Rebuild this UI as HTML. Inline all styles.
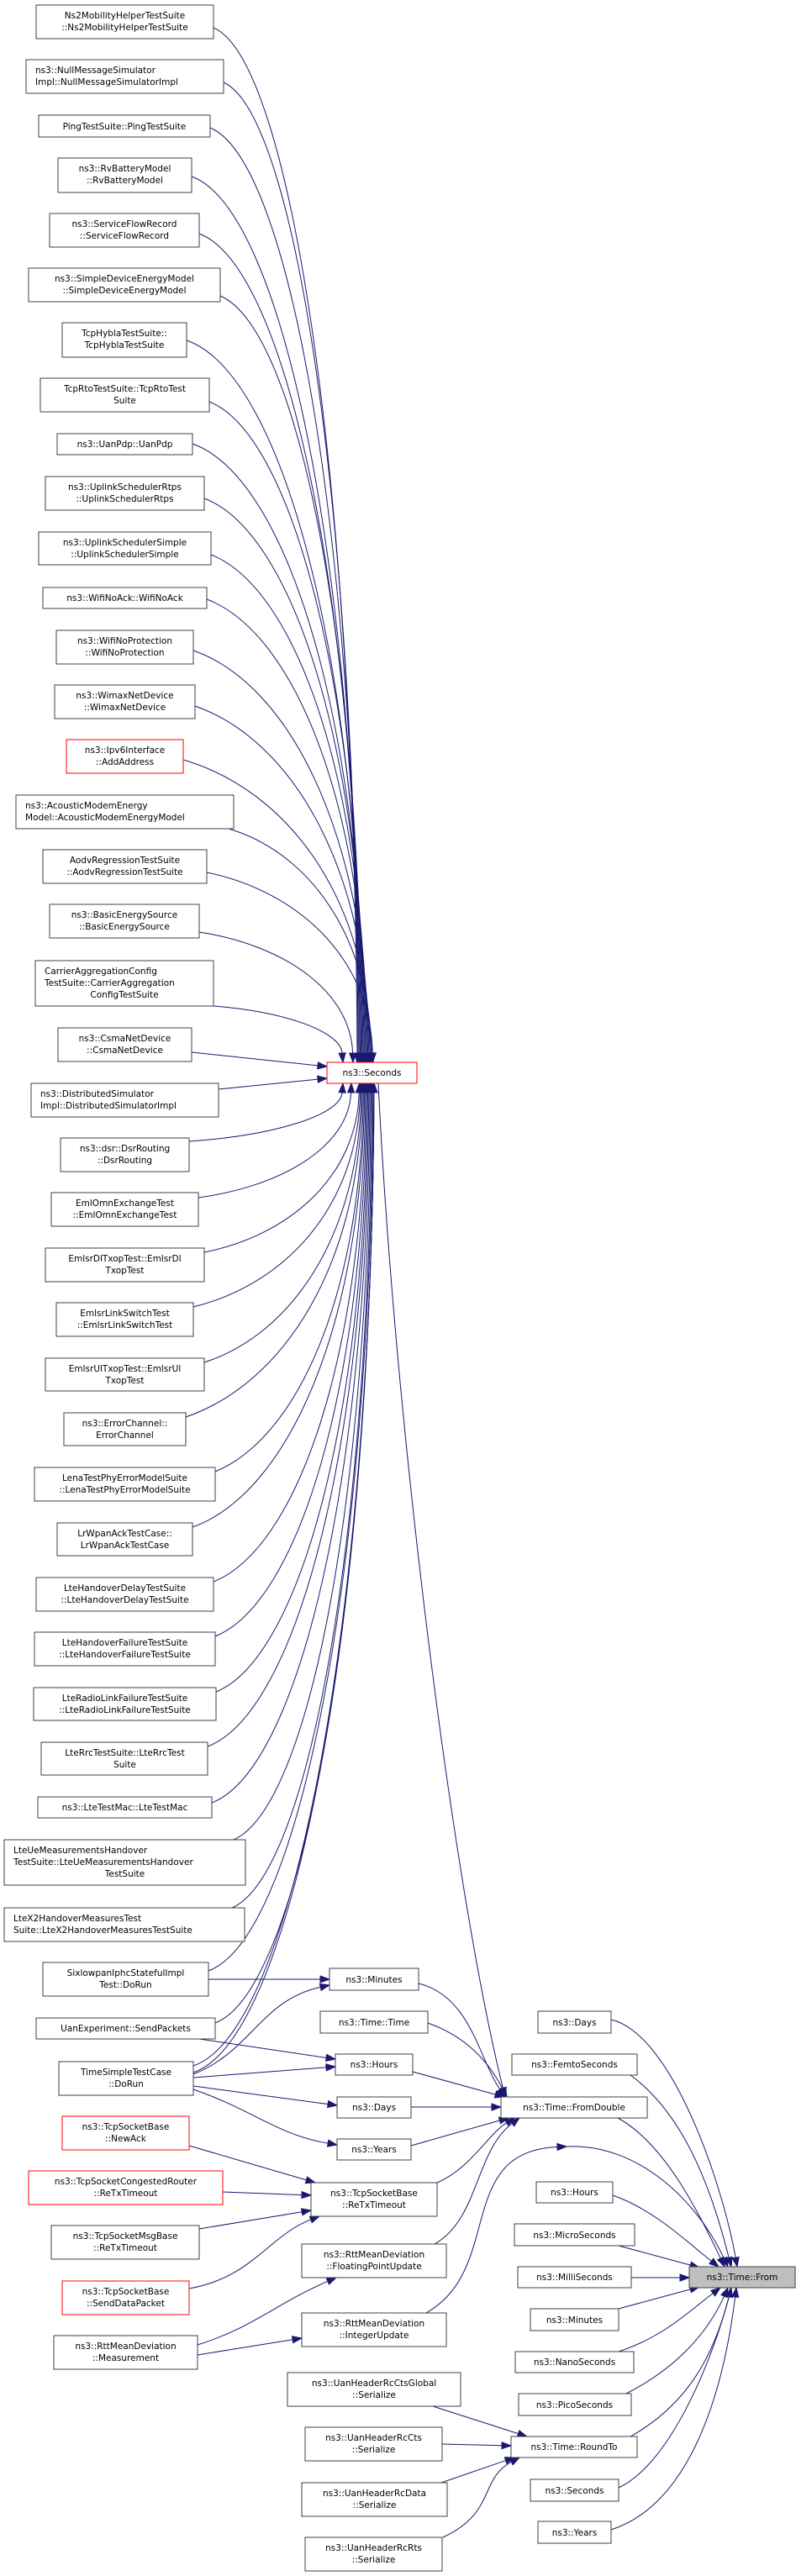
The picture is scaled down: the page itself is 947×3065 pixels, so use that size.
<!DOCTYPE html>
<html><head><meta charset="utf-8"><style>
html,body{margin:0;padding:0;background:#fff;}
svg{display:block;}
text{font-family:"DejaVu Sans","Liberation Sans",sans-serif;font-size:10.5px;fill:#000;}
</style></head><body>
<svg id="g" width="947" height="3065" viewBox="0 0 947 3065" xmlns="http://www.w3.org/2000/svg">
<g id="edges" fill="none" stroke="#191970" stroke-width="1"></g>
<g id="heads" fill="#191970" stroke="#191970"></g>
<g id="nodes">
<rect x="43" y="6" width="211" height="40" fill="#fff" stroke="#404040"/><text x="148.5" y="22" text-anchor="middle">Ns2MobilityHelperTestSuite</text><text x="148.5" y="36" text-anchor="middle">::Ns2MobilityHelperTestSuite</text>
<rect x="31" y="71" width="235" height="40" fill="#fff" stroke="#404040"/><text x="42" y="87">ns3::NullMessageSimulator</text><text x="42" y="101">Impl::NullMessageSimulatorImpl</text>
<rect x="46" y="137" width="204" height="26" fill="#fff" stroke="#404040"/><text x="148" y="154" text-anchor="middle">PingTestSuite::PingTestSuite</text>
<rect x="69" y="188" width="159" height="41" fill="#fff" stroke="#404040"/><text x="148.5" y="204" text-anchor="middle">ns3::RvBatteryModel</text><text x="148.5" y="218" text-anchor="middle">::RvBatteryModel</text>
<rect x="59" y="254" width="178" height="40" fill="#fff" stroke="#404040"/><text x="148" y="270" text-anchor="middle">ns3::ServiceFlowRecord</text><text x="148" y="284" text-anchor="middle">::ServiceFlowRecord</text>
<rect x="34" y="319" width="228" height="40" fill="#fff" stroke="#404040"/><text x="148" y="335" text-anchor="middle">ns3::SimpleDeviceEnergyModel</text><text x="148" y="349" text-anchor="middle">::SimpleDeviceEnergyModel</text>
<rect x="74" y="384" width="148" height="41" fill="#fff" stroke="#404040"/><text x="148" y="400" text-anchor="middle">TcpHyblaTestSuite::</text><text x="148" y="414" text-anchor="middle">TcpHyblaTestSuite</text>
<rect x="48" y="450" width="201" height="40" fill="#fff" stroke="#404040"/><text x="148.5" y="466" text-anchor="middle">TcpRtoTestSuite::TcpRtoTest</text><text x="148.5" y="480" text-anchor="middle">Suite</text>
<rect x="68" y="516" width="161" height="25" fill="#fff" stroke="#404040"/><text x="148.5" y="532" text-anchor="middle">ns3::UanPdp::UanPdp</text>
<rect x="54" y="567" width="189" height="40" fill="#fff" stroke="#404040"/><text x="148.5" y="583" text-anchor="middle">ns3::UplinkSchedulerRtps</text><text x="148.5" y="597" text-anchor="middle">::UplinkSchedulerRtps</text>
<rect x="46" y="633" width="205" height="39" fill="#fff" stroke="#404040"/><text x="148.5" y="649" text-anchor="middle">ns3::UplinkSchedulerSimple</text><text x="148.5" y="663" text-anchor="middle">::UplinkSchedulerSimple</text>
<rect x="51" y="699" width="195" height="25" fill="#fff" stroke="#404040"/><text x="148.5" y="715" text-anchor="middle">ns3::WifiNoAck::WifiNoAck</text>
<rect x="67" y="750" width="163" height="40" fill="#fff" stroke="#404040"/><text x="148.5" y="766" text-anchor="middle">ns3::WifiNoProtection</text><text x="148.5" y="780" text-anchor="middle">::WifiNoProtection</text>
<rect x="65" y="815" width="167" height="40" fill="#fff" stroke="#404040"/><text x="148.5" y="831" text-anchor="middle">ns3::WimaxNetDevice</text><text x="148.5" y="845" text-anchor="middle">::WimaxNetDevice</text>
<rect x="79" y="880" width="139" height="40" fill="#fff" stroke="#ff0000"/><text x="148.5" y="896" text-anchor="middle">ns3::Ipv6Interface</text><text x="148.5" y="910" text-anchor="middle">::AddAddress</text>
<rect x="19" y="946" width="259" height="40" fill="#fff" stroke="#404040"/><text x="30" y="962">ns3::AcousticModemEnergy</text><text x="30" y="976">Model::AcousticModemEnergyModel</text>
<rect x="51" y="1011" width="195" height="40" fill="#fff" stroke="#404040"/><text x="148.5" y="1027" text-anchor="middle">AodvRegressionTestSuite</text><text x="148.5" y="1041" text-anchor="middle">::AodvRegressionTestSuite</text>
<rect x="59" y="1076" width="178" height="40" fill="#fff" stroke="#404040"/><text x="148" y="1092" text-anchor="middle">ns3::BasicEnergySource</text><text x="148" y="1106" text-anchor="middle">::BasicEnergySource</text>
<rect x="42" y="1143" width="212" height="54" fill="#fff" stroke="#404040"/><text x="53" y="1159">CarrierAggregationConfig</text><text x="53" y="1173">TestSuite::CarrierAggregation</text><text x="148" y="1187" text-anchor="middle">ConfigTestSuite</text>
<rect x="69" y="1223" width="159" height="40" fill="#fff" stroke="#404040"/><text x="148.5" y="1239" text-anchor="middle">ns3::CsmaNetDevice</text><text x="148.5" y="1253" text-anchor="middle">::CsmaNetDevice</text>
<rect x="37" y="1289" width="223" height="40" fill="#fff" stroke="#404040"/><text x="48" y="1305">ns3::DistributedSimulator</text><text x="48" y="1319">Impl::DistributedSimulatorImpl</text>
<rect x="72" y="1354" width="153" height="40" fill="#fff" stroke="#404040"/><text x="148.5" y="1370" text-anchor="middle">ns3::dsr::DsrRouting</text><text x="148.5" y="1384" text-anchor="middle">::DsrRouting</text>
<rect x="61" y="1419" width="175" height="40" fill="#fff" stroke="#404040"/><text x="148.5" y="1435" text-anchor="middle">EmlOmnExchangeTest</text><text x="148.5" y="1449" text-anchor="middle">::EmlOmnExchangeTest</text>
<rect x="54" y="1485" width="189" height="40" fill="#fff" stroke="#404040"/><text x="148.5" y="1501" text-anchor="middle">EmlsrDlTxopTest::EmlsrDl</text><text x="148.5" y="1515" text-anchor="middle">TxopTest</text>
<rect x="67" y="1550" width="163" height="40" fill="#fff" stroke="#404040"/><text x="148.5" y="1566" text-anchor="middle">EmlsrLinkSwitchTest</text><text x="148.5" y="1580" text-anchor="middle">::EmlsrLinkSwitchTest</text>
<rect x="54" y="1616" width="189" height="39" fill="#fff" stroke="#404040"/><text x="148.5" y="1632" text-anchor="middle">EmlsrUlTxopTest::EmlsrUl</text><text x="148.5" y="1646" text-anchor="middle">TxopTest</text>
<rect x="76" y="1681" width="145" height="39" fill="#fff" stroke="#404040"/><text x="148.5" y="1697" text-anchor="middle">ns3::ErrorChannel::</text><text x="148.5" y="1711" text-anchor="middle">ErrorChannel</text>
<rect x="41" y="1746" width="215" height="40" fill="#fff" stroke="#404040"/><text x="148.5" y="1762" text-anchor="middle">LenaTestPhyErrorModelSuite</text><text x="148.5" y="1776" text-anchor="middle">::LenaTestPhyErrorModelSuite</text>
<rect x="68" y="1812" width="161" height="39" fill="#fff" stroke="#404040"/><text x="148.5" y="1828" text-anchor="middle">LrWpanAckTestCase::</text><text x="148.5" y="1842" text-anchor="middle">LrWpanAckTestCase</text>
<rect x="43" y="1877" width="211" height="40" fill="#fff" stroke="#404040"/><text x="148.5" y="1893" text-anchor="middle">LteHandoverDelayTestSuite</text><text x="148.5" y="1907" text-anchor="middle">::LteHandoverDelayTestSuite</text>
<rect x="41" y="1942" width="215" height="40" fill="#fff" stroke="#404040"/><text x="148.5" y="1958" text-anchor="middle">LteHandoverFailureTestSuite</text><text x="148.5" y="1972" text-anchor="middle">::LteHandoverFailureTestSuite</text>
<rect x="40" y="2008" width="217" height="39" fill="#fff" stroke="#404040"/><text x="148.5" y="2024" text-anchor="middle">LteRadioLinkFailureTestSuite</text><text x="148.5" y="2038" text-anchor="middle">::LteRadioLinkFailureTestSuite</text>
<rect x="49" y="2073" width="198" height="39" fill="#fff" stroke="#404040"/><text x="148.5" y="2089" text-anchor="middle">LteRrcTestSuite::LteRrcTest</text><text x="148.5" y="2103" text-anchor="middle">Suite</text>
<rect x="45" y="2138" width="207" height="25" fill="#fff" stroke="#404040"/><text x="148.5" y="2154" text-anchor="middle">ns3::LteTestMac::LteTestMac</text>
<rect x="5" y="2189" width="287" height="54" fill="#fff" stroke="#404040"/><text x="16" y="2205">LteUeMeasurementsHandover</text><text x="16" y="2219">TestSuite::LteUeMeasurementsHandover</text><text x="148.5" y="2233" text-anchor="middle">TestSuite</text>
<rect x="5" y="2270" width="286" height="40" fill="#fff" stroke="#404040"/><text x="16" y="2286">LteX2HandoverMeasuresTest</text><text x="16" y="2300">Suite::LteX2HandoverMeasuresTestSuite</text>
<rect x="51" y="2335" width="197" height="40" fill="#fff" stroke="#404040"/><text x="149.5" y="2351" text-anchor="middle">SixlowpanIphcStatefulImpl</text><text x="149.5" y="2365" text-anchor="middle">Test::DoRun</text>
<rect x="43" y="2401" width="213" height="25" fill="#fff" stroke="#404040"/><text x="149.5" y="2417" text-anchor="middle">UanExperiment::SendPackets</text>
<rect x="70" y="2453" width="160" height="40" fill="#fff" stroke="#404040"/><text x="150" y="2469" text-anchor="middle">TimeSimpleTestCase</text><text x="150" y="2483" text-anchor="middle">::DoRun</text>
<rect x="74" y="2518" width="151" height="40" fill="#fff" stroke="#ff0000"/><text x="149.5" y="2534" text-anchor="middle">ns3::TcpSocketBase</text><text x="149.5" y="2548" text-anchor="middle">::NewAck</text>
<rect x="34" y="2583" width="231" height="40" fill="#fff" stroke="#ff0000"/><text x="149.5" y="2599" text-anchor="middle">ns3::TcpSocketCongestedRouter</text><text x="149.5" y="2613" text-anchor="middle">::ReTxTimeout</text>
<rect x="61" y="2648" width="176" height="40" fill="#fff" stroke="#404040"/><text x="149" y="2664" text-anchor="middle">ns3::TcpSocketMsgBase</text><text x="149" y="2678" text-anchor="middle">::ReTxTimeout</text>
<rect x="74" y="2714" width="151" height="40" fill="#fff" stroke="#ff0000"/><text x="149.5" y="2730" text-anchor="middle">ns3::TcpSocketBase</text><text x="149.5" y="2744" text-anchor="middle">::SendDataPacket</text>
<rect x="64" y="2779" width="171" height="40" fill="#fff" stroke="#404040"/><text x="149.5" y="2795" text-anchor="middle">ns3::RttMeanDeviation</text><text x="149.5" y="2809" text-anchor="middle">::Measurement</text>
<rect x="392" y="2342" width="106" height="26" fill="#fff" stroke="#404040"/><text x="445" y="2359" text-anchor="middle">ns3::Minutes</text>
<rect x="381" y="2393" width="128" height="26" fill="#fff" stroke="#404040"/><text x="445" y="2410" text-anchor="middle">ns3::Time::Time</text>
<rect x="399" y="2444" width="92" height="25" fill="#fff" stroke="#404040"/><text x="445" y="2460" text-anchor="middle">ns3::Hours</text>
<rect x="401" y="2495" width="88" height="25" fill="#fff" stroke="#404040"/><text x="445" y="2511" text-anchor="middle">ns3::Days</text>
<rect x="401" y="2545" width="88" height="25" fill="#fff" stroke="#404040"/><text x="445" y="2561" text-anchor="middle">ns3::Years</text>
<rect x="370" y="2597" width="150" height="40" fill="#fff" stroke="#404040"/><text x="445" y="2613" text-anchor="middle">ns3::TcpSocketBase</text><text x="445" y="2627" text-anchor="middle">::ReTxTimeout</text>
<rect x="359" y="2670" width="172" height="40" fill="#fff" stroke="#404040"/><text x="445" y="2686" text-anchor="middle">ns3::RttMeanDeviation</text><text x="445" y="2700" text-anchor="middle">::FloatingPointUpdate</text>
<rect x="359" y="2752" width="172" height="40" fill="#fff" stroke="#404040"/><text x="445" y="2768" text-anchor="middle">ns3::RttMeanDeviation</text><text x="445" y="2782" text-anchor="middle">::IntegerUpdate</text>
<rect x="342" y="2823" width="206" height="40" fill="#fff" stroke="#404040"/><text x="445" y="2839" text-anchor="middle">ns3::UanHeaderRcCtsGlobal</text><text x="445" y="2853" text-anchor="middle">::Serialize</text>
<rect x="363" y="2888" width="163" height="40" fill="#fff" stroke="#404040"/><text x="444.5" y="2904" text-anchor="middle">ns3::UanHeaderRcCts</text><text x="444.5" y="2918" text-anchor="middle">::Serialize</text>
<rect x="359" y="2954" width="173" height="40" fill="#fff" stroke="#404040"/><text x="445.5" y="2970" text-anchor="middle">ns3::UanHeaderRcData</text><text x="445.5" y="2984" text-anchor="middle">::Serialize</text>
<rect x="363" y="3019" width="163" height="40" fill="#fff" stroke="#404040"/><text x="444.5" y="3035" text-anchor="middle">ns3::UanHeaderRcRts</text><text x="444.5" y="3049" text-anchor="middle">::Serialize</text>
<rect x="389" y="1264" width="107" height="25" fill="#fff" stroke="#ff0000"/><text x="442.5" y="1280" text-anchor="middle">ns3::Seconds</text>
<rect x="596" y="2495" width="174" height="25" fill="#fff" stroke="#404040"/><text x="683" y="2511" text-anchor="middle">ns3::Time::FromDouble</text>
<rect x="608" y="2899" width="150" height="25" fill="#fff" stroke="#404040"/><text x="683" y="2915" text-anchor="middle">ns3::Time::RoundTo</text>
<rect x="640" y="2393" width="87" height="26" fill="#fff" stroke="#404040"/><text x="683.5" y="2410" text-anchor="middle">ns3::Days</text>
<rect x="609" y="2444" width="149" height="25" fill="#fff" stroke="#404040"/><text x="683.5" y="2460" text-anchor="middle">ns3::FemtoSeconds</text>
<rect x="638" y="2596" width="91" height="25" fill="#fff" stroke="#404040"/><text x="683.5" y="2612" text-anchor="middle">ns3::Hours</text>
<rect x="612" y="2646" width="143" height="26" fill="#fff" stroke="#404040"/><text x="683.5" y="2663" text-anchor="middle">ns3::MicroSeconds</text>
<rect x="616" y="2697" width="135" height="25" fill="#fff" stroke="#404040"/><text x="683.5" y="2713" text-anchor="middle">ns3::MilliSeconds</text>
<rect x="631" y="2747" width="105" height="26" fill="#fff" stroke="#404040"/><text x="683.5" y="2764" text-anchor="middle">ns3::Minutes</text>
<rect x="613" y="2798" width="141" height="25" fill="#fff" stroke="#404040"/><text x="683.5" y="2814" text-anchor="middle">ns3::NanoSeconds</text>
<rect x="617" y="2848" width="134" height="26" fill="#fff" stroke="#404040"/><text x="683.5" y="2865" text-anchor="middle">ns3::PicoSeconds</text>
<rect x="631" y="2950" width="105" height="26" fill="#fff" stroke="#404040"/><text x="683.5" y="2967" text-anchor="middle">ns3::Seconds</text>
<rect x="640" y="3000" width="87" height="26" fill="#fff" stroke="#404040"/><text x="683.5" y="3017" text-anchor="middle">ns3::Years</text>
<rect x="820" y="2697" width="126" height="25" fill="#bfbfbf" stroke="#404040"/><text x="883" y="2713" text-anchor="middle">ns3::Time::From</text>
</g>
</svg>
<script>
(function(){
var E=document.getElementById('edges'),H=document.getElementById('heads'),NS='http://www.w3.org/2000/svg';
function edge(x0,y0,c1x,c1y,c2x,c2y,x1,y1){
  var dx=x1-c2x,dy=y1-c2y,l=Math.sqrt(dx*dx+dy*dy)||1;dx/=l;dy/=l;
  var L=11,W=4,bx=x1-dx*L,by=y1-dy*L;
  var p=document.createElementNS(NS,'path');
  p.setAttribute('d','M'+x0+','+y0+' C'+c1x+','+c1y+' '+c2x+','+c2y+' '+bx+','+by);E.appendChild(p);
  var t=document.createElementNS(NS,'polygon');
  t.setAttribute('points',x1+','+y1+' '+(bx-dy*W)+','+(by+dx*W)+' '+(bx+dy*W)+','+(by-dx*W));H.appendChild(t);
}
function line(a,b,c,d){edge(a,b,a+(c-a)/3,b+(d-b)/3,a+2*(c-a)/3,b+2*(d-b)/3,c,d);}
// callers of Seconds above
var above=[[254,33],[266,98],[250,152],[228,210],[237,278],[262,352],[222,405],[249,478],[229,528],[243,593],[251,660],[246,713],[230,774],[232,840],[218,904],[272,986],[246,1038],[237,1109],[254,1197]];
above.forEach(function(s,i){
  var n=above.length,tx=425+Math.min(20,(i/n)*22),ty=1264;
  if(i==n-1){tx=408;}
  if(i==n-2){tx=420;}
  var dy=ty-s[1];
  edge(s[0],s[1],s[0]+0.55*(tx-s[0]),s[1]+Math.min(40,dy*0.1),tx-3,s[1]+dy*0.45,tx,ty);
});
line(228,1252,389,1269);
line(260,1296,389,1283);
var below=[[225,1358],[236,1425],[243,1490],[230,1555],[243,1621],[221,1686],[256,1751],[229,1817],[254,1882],[256,1947],[257,2013],[247,2078],[252,2145],[278,2189],[276,2270],[248,2345],[256,2407],[230,2458],[230,2466]];
below.forEach(function(s,i){
  var n=below.length,tx=425+Math.min(20,(i/n)*24),ty=1289;
  if(i==0)tx=408;if(i==1)tx=418;
  var dy=s[1]-ty;
  edge(s[0],s[1],s[0]+0.55*(tx-s[0]),s[1]-Math.min(40,dy*0.1),tx-3,s[1]-dy*0.45,tx,ty);
});
// Seconds -> FromDouble
edge(450,1289,470,1700,540,2250,601,2495);
line(248,2355,392,2355);
edge(230,2468,300,2440,310,2380,392,2362);
line(237,2426,399,2450);
line(230,2472,399,2459);
line(230,2482,401,2505);
edge(230,2486,300,2510,330,2540,401,2552);
edge(498,2360,560,2375,570,2450,601,2495);
edge(509,2407,560,2425,585,2460,603,2495);
line(491,2465,600,2495);
line(489,2507,596,2507);
line(489,2553,605,2520);
edge(520,2597,560,2580,580,2540,612,2520);
edge(517,2670,570,2640,565,2560,618,2520);
edge(735,2520,790,2550,830,2630,862,2697);
line(225,2553,375,2597);
line(265,2608,370,2612);
line(237,2652,370,2630);
edge(225,2723,300,2710,320,2660,380,2637);
edge(235,2790,300,2770,330,2740,400,2710);
line(235,2802,359,2782);
edge(507,2752,600,2700,540,2560,674,2554);
edge(674,2554,760,2550,830,2620,866,2697);
line(515,2863,627,2899);
line(526,2908,608,2910);
line(525,2954,612,2924);
edge(527,3019,590,2990,570,2950,618,2924);
edge(750,2899,820,2860,850,2800,870,2722);
edge(727,2403,800,2420,860,2600,877,2697);
edge(750,2469,820,2520,850,2620,870,2697);
edge(729,2612,780,2630,820,2670,855,2697);
line(736,2672,832,2698);
line(751,2710,820,2710);
line(736,2747,832,2721);
edge(736,2798,790,2780,820,2750,857,2722);
edge(745,2848,800,2820,840,2780,866,2722);
edge(736,2960,800,2930,850,2800,870,2722);
edge(727,3010,820,2980,860,2850,876,2722);
})();
</script>
</body></html>
